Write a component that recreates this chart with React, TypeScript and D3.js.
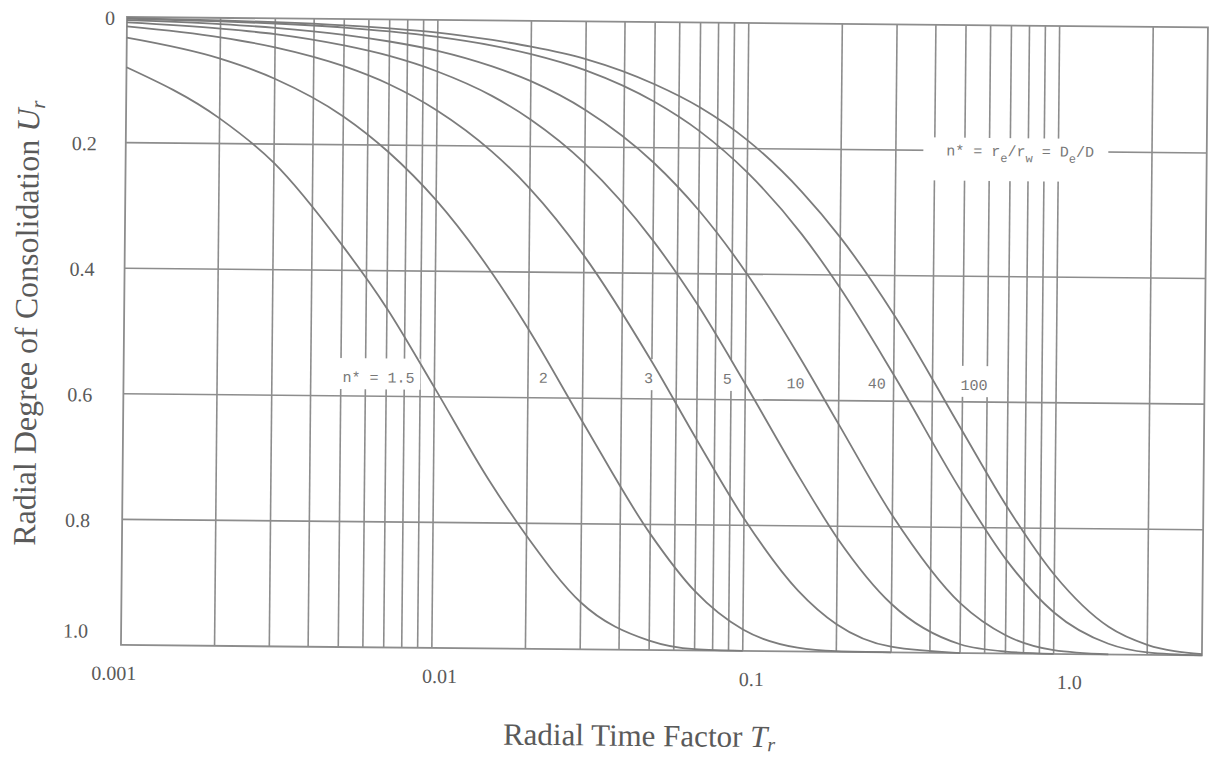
import React from 'react';
import * as d3 from 'd3';

// radial time factor samples (x) and read-off degree of consolidation per curve
const timeFactor = [0.001, 0.002, 0.003, 0.005, 0.007, 0.01, 0.015, 0.02, 0.03, 0.05, 0.07, 0.1, 0.15, 0.2, 0.3, 0.5, 0.7, 1, 1.5, 2, 3];

const n15 = [0.08, 0.16, 0.23, 0.36, 0.46, 0.585, 0.73, 0.82, 0.925, 0.985, 0.998, 1.0, null, null, null, null, null, null, null, null, null];
const n2 = [0.033, 0.065, 0.096, 0.155, 0.211, 0.287, 0.398, 0.491, 0.637, 0.815, 0.906, 0.966, 0.994, 0.999, 1.0, null, null, null, null, null, null];
const n3 = [0.015, 0.031, 0.046, 0.075, 0.103, 0.144, 0.208, 0.267, 0.373, 0.541, 0.664, 0.789, 0.903, 0.956, 0.991, 1.0, null, null, null, null, null];
const n5 = [0.0085, 0.017, 0.025, 0.042, 0.058, 0.082, 0.12, 0.157, 0.226, 0.348, 0.45, 0.575, 0.722, 0.819, 0.923, 0.986, 0.997, 1.0, null, null, null];
const n10 = [0.005, 0.01, 0.015, 0.025, 0.035, 0.049, 0.073, 0.096, 0.141, 0.224, 0.299, 0.398, 0.533, 0.637, 0.782, 0.921, 0.971, 0.994, 1.0, null, null];
const n40 = [0.0027, 0.0054, 0.0081, 0.0135, 0.019, 0.027, 0.04, 0.053, 0.078, 0.127, 0.173, 0.238, 0.335, 0.42, 0.558, 0.743, 0.851, 0.934, 0.983, 0.996, 1.0];
const n100 = [0.002, 0.004, 0.006, 0.01, 0.014, 0.02, 0.031, 0.041, 0.06, 0.099, 0.135, 0.187, 0.268, 0.34, 0.463, 0.646, 0.766, 0.874, 0.956, 0.984, 0.998];

const curveLabels = ['n* = 1.5', '2', '3', '5', '10', '40', '100'];

const xTickValues = [0.001, 0.01, 0.1, 1];
const xTickLabels = ['0.001', '0.01', '0.1', '1.0'];
const yTickValues = [0, 0.2, 0.4, 0.6, 0.8, 1.0];
const yTickLabels = ['0', '0.2', '0.4', '0.6', '0.8', '1.0'];

// vertical rulings of the log paper
const xGrid = [0.002, 0.003, 0.004, 0.005, 0.006, 0.007, 0.008, 0.009, 0.01,
  0.02, 0.03, 0.04, 0.05, 0.06, 0.07, 0.08, 0.09, 0.1,
  0.2, 0.3, 0.4, 0.5, 0.6, 0.7, 0.8, 0.9, 1, 2];
const yGrid = [0.2, 0.4, 0.6, 0.8];

const W = 1213, H = 758;
const margin = {top: 17, right: 5, bottom: 113, left: 127};

const lineCol = '#8d8d8d';
const textCol = '#5a5a5a';

export default function App() {
  const x = d3.scaleLog().domain([0.001, 3]).range([margin.left, W - margin.right]);
  const y = d3.scaleLinear().domain([0, 1]).range([margin.top, H - margin.bottom]);

  const series = [n15, n2, n3, n5, n10, n40, n100];
  const line = d3.line<number | null>()
    .defined(d => d !== null)
    .x((d, i) => x(timeFactor[i]))
    .y(d => y(d as number))
    .curve(d3.curveMonotoneX);

  // where each curve label sits (in data units) - layout only
  const labelAt = [
    {t: 0.00506, u: 0.578, anchor: 'start'},
    {t: 0.0224, u: 0.576, anchor: 'middle'},
    {t: 0.0488, u: 0.575, anchor: 'middle'},
    {t: 0.0875, u: 0.575, anchor: 'middle'},
    {t: 0.145, u: 0.581, anchor: 'middle'},
    {t: 0.265, u: 0.58, anchor: 'middle'},
    {t: 0.544, u: 0.581, anchor: 'middle'},
  ];
  const monoSize = 15;
  const charW = monoSize * 0.6;

  const legendX = x(0.436);
  const legendY = y(0.208);

  const xNudge = [-7, 8, 9, 16];
  const yNudge = [-12, -29, -30, -31, -32, -33];
  const yDrop = [8, 8, 8, 8, 8, -7];

  const x0 = x.range()[0], x1 = x.range()[1];
  const y0 = y.range()[0], y1 = y.range()[1];

  return (
    <svg width={W} height={H} style={{position: 'absolute', left: 0, top: 0, background: '#fff'}}>
      <g transform={`rotate(0.55, ${margin.left}, ${margin.top})`}>
        {/* rulings */}
        {xGrid.map(t => (
          <line key={'gx' + t} x1={x(t)} x2={x(t)} y1={y0} y2={y1} stroke={lineCol} strokeWidth={1.6} />
        ))}
        {yGrid.map(u => (
          <line key={'gy' + u} x1={x0} x2={x1} y1={y(u)} y2={y(u)} stroke={lineCol} strokeWidth={1.6} />
        ))}

        {/* paper gaps behind the lettering */}
        {curveLabels.map((lab, i) => {
          const a = labelAt[i];
          const w = lab.length * charW;
          const lx = a.anchor === 'start' ? x(a.t) : x(a.t) - w / 2;
          return <rect key={'bg' + i} x={lx - 6} y={y(a.u) - 24} width={w + 12} height={31} fill="#fff" />;
        })}
        <rect x={legendX - 23} y={legendY - 18} width={185} height={43} fill="#fff" />

        {/* frame */}
        <rect x={x0} y={y0} width={x1 - x0} height={y1 - y0} fill="none" stroke={lineCol} strokeWidth={1.8} />

        {/* consolidation curves */}
        {series.map((s, i) => (
          <path key={'c' + i} d={line(s) || ''} fill="none" stroke="#7c7c7c" strokeWidth={1.8} />
        ))}

        {/* curve labels */}
        <g fontFamily="'Liberation Mono', monospace" fontSize={monoSize} fill="#777">
          {curveLabels.map((lab, i) => (
            <text key={'l' + i} x={x(labelAt[i].t)} y={y(labelAt[i].u)} textAnchor={labelAt[i].anchor}>{lab}</text>
          ))}
          <text x={legendX} y={legendY}>
            n* = r<tspan dy={6} fontSize={12}>e</tspan><tspan dy={-6}>/r</tspan><tspan dy={6} fontSize={12}>w</tspan><tspan dy={-6}> = D</tspan><tspan dy={6} fontSize={12}>e</tspan><tspan dy={-6}>/D</tspan>
          </text>
        </g>

        {/* tick labels */}
        <g fontFamily="'Liberation Serif', serif" fontSize={20} fill={textCol}>
          {xTickValues.map((t, i) => (
            <text key={'xt' + i} x={x(t) + xNudge[i]} y={y1 + 35} textAnchor="middle">{xTickLabels[i]}</text>
          ))}
          {yTickValues.map((u, i) => (
            <text key={'yt' + i} x={x0 + yNudge[i]} y={y(u) + yDrop[i]} textAnchor="end">{yTickLabels[i]}</text>
          ))}
        </g>

        {/* axis titles */}
        <g fontFamily="'Liberation Serif', serif" fill={textCol}>
          <text x={646} y={741} textAnchor="middle" fontSize={31}>
            Radial Time Factor <tspan fontStyle="italic">T</tspan><tspan fontStyle="italic" fontSize={20} dy={4}>r</tspan>
          </text>
          <text transform="translate(40, 324) rotate(-90)" textAnchor="middle" fontSize={32}>
            Radial Degree of Consolidation <tspan fontStyle="italic">U</tspan><tspan fontStyle="italic" fontSize={21} dy={6}>r</tspan>
          </text>
        </g>
      </g>
    </svg>
  );
}
